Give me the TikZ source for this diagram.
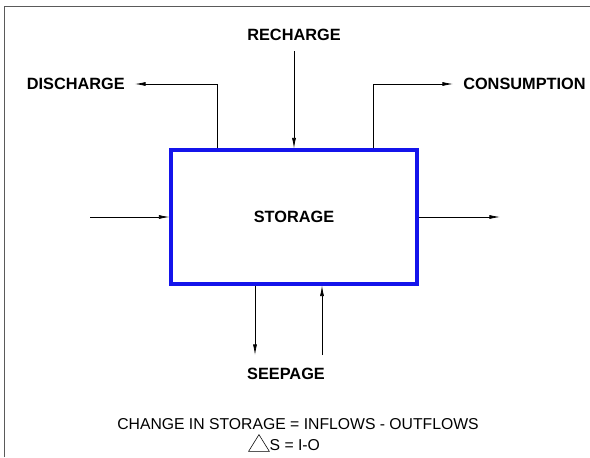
\documentclass[tikz,border=0pt]{standalone}
\usepackage{fontspec}
\setmainfont{Liberation Sans}
\usepackage{tikz}
\usetikzlibrary{arrows.meta,positioning,calc}
\definecolor{storeblue}{RGB}{20,20,235}
\definecolor{framegray}{RGB}{90,90,90}
\newcommand{\deltri}{\tikz[baseline=-0.08cm]\draw[line width=0.4pt] (0,-0.1) -- (0.52,-0.1) -- (0.26,0.32) -- cycle;}

\begin{document}
\begin{tikzpicture}[
  store/.style={draw=storeblue,line width=2.2pt,minimum width=6.15cm,minimum height=3.35cm,
                font=\bfseries\fontsize{11.6}{13}\selectfont},
  flow/.style={font=\bfseries\fontsize{11.6}{13}\selectfont,inner sep=0.25cm},
  eqn/.style={font=\fontsize{11.2}{13}\selectfont,inner sep=0pt},
  arrow/.style={-{Latex[length=7.5pt,width=2.8pt]},line width=0.5pt,black}]

  \useasboundingbox (0,0) rectangle (14.75,11.425);

  % Sheet edge
  \draw[framegray,line width=1pt] (0.1125,0) -- (0.1125,11.2625) -- (14.75,11.2625);

  % The reservoir
  \node[store] (store) at (7.35,6.0) {STORAGE};

  % Flow labels
  \node[flow] (recharge) at (7.35,10.55) {RECHARGE};
  \node[flow,anchor=east] (discharge) at (3.375,9.325) {DISCHARGE};
  \node[flow,anchor=west] (consumption) at (11.325,9.325) {CONSUMPTION};
  \node[flow] (seepage) at (7.15,2.075) {SEEPAGE};

  % Side flows
  \coordinate (inflow) at (2.25,6.0);
  \coordinate (outflow) at (12.5,6.0);
  \draw[arrow] (inflow) -- (store.west);
  \draw[arrow] (store.east) -- (outflow);

  % Top flows
  \draw[arrow] (recharge.south) -- (store.north);
  \draw[arrow] ([xshift=1.2cm]store.north west) |- (discharge.east);
  \draw[arrow] ([xshift=-1.125cm]store.north east) |- (consumption.west);

  % Seepage in and out
  \coordinate (seepout) at (6.375,2.55);
  \coordinate (seepin) at (8.05,2.55);
  \draw[arrow] (store.south -| seepout) -- (seepout);
  \draw[arrow] (seepin) -- (store.south -| seepin);

  % Balance equation
  \node[eqn] (balance) at (7.45,0.825) {CHANGE IN STORAGE = INFLOWS - OUTFLOWS};
  \node[eqn,anchor=west] (delta) at (6.2,0.35) {\deltri S = I-O};

\end{tikzpicture}
\end{document}
